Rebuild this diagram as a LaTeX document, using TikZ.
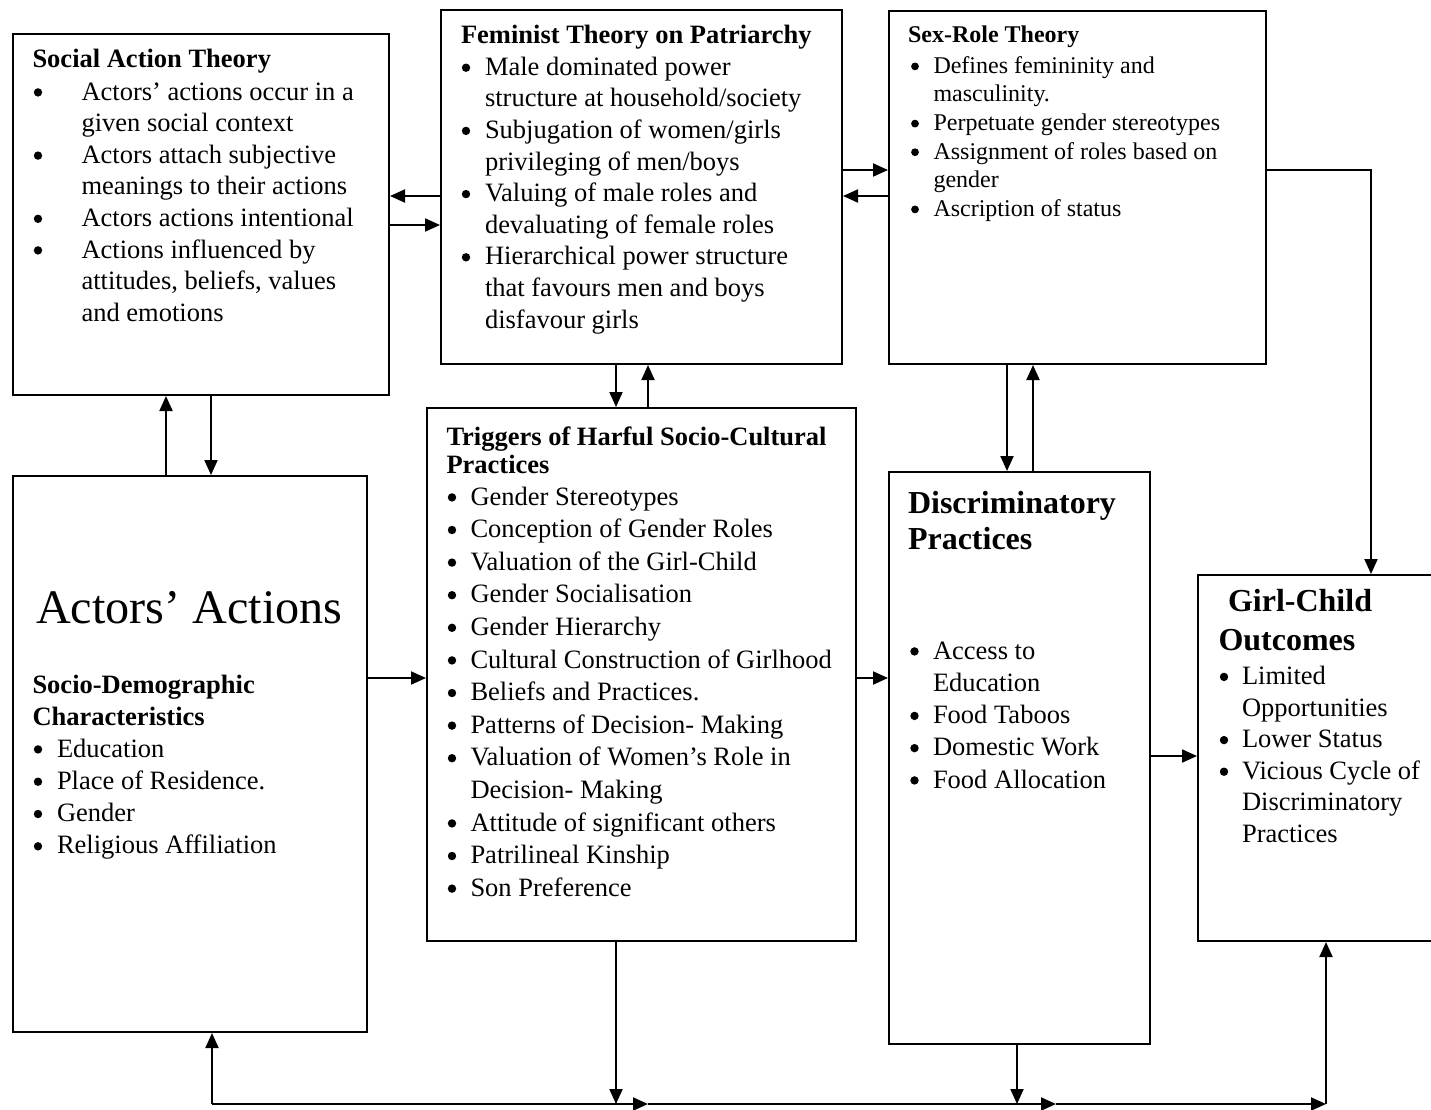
\documentclass[tikz,border=0pt]{standalone}
\usepackage{fontspec}
\setmainfont{Liberation Serif}
\usetikzlibrary{arrows.meta}
\newcommand\fbody{\fontsize{26.5}{31.6}\selectfont}
\newcommand\fsmall{\fontsize{24}{28.6}\selectfont}
\def\bY{4.2pt}
\def\bN{0pt}
\def\bo{7.6}
% #1 name prefix, #2 text x, #3 bullet centre x, #4 first baseline y, #5 step, #6 list radius/text
\newcommand\txtlines[6]{%
  \foreach \r/\tx [count=\k from 0] in {#6}{
    \node[ln, name=#1\k] at ({#2},{#4+\k*#5}) {\tx};
    \fill ({#3},{#4+\k*#5-\bo}) circle (\r);}}
\tikzset{
  boxs/.style={draw, line width=2pt, fill=white, inner sep=0, anchor=north west},
  conn/.style={line width=2pt, -{Triangle[length=15pt,width=13pt]}},
  ln/.style={anchor=base west, inner sep=0, outer sep=0},
  ttl/.style={ln, font=\fbody\bfseries},
  bigttl/.style={ln, font=\fontsize{32}{38}\selectfont\bfseries},
}
\begin{document}
\begin{tikzpicture}[x=1pt,y=-1pt]
\clip (0,0) rectangle (1431,1109);
\fill[white] (0,0) rectangle (1431,1109);

% boxes
\node[boxs, minimum width=376pt, minimum height=361pt] (soc) at (12,33) {};
\node[boxs, minimum width=401pt, minimum height=354pt] (fem) at (440,9) {};
\node[boxs, minimum width=377pt, minimum height=353pt] (sex) at (888,10) {};
\node[boxs, minimum width=354pt, minimum height=556pt] (act) at (12,475) {};
\node[boxs, minimum width=429pt, minimum height=533pt] (trig) at (426,407) {};
\node[boxs, minimum width=261pt, minimum height=572pt] (disc) at (888,471) {};
\node[boxs, minimum width=260pt, minimum height=366pt] (girl) at (1197,574) {};

% Social Action Theory
\node[ttl] (socT) at (32.5,67) {Social Action Theory};
\begin{scope}[font=\fbody]
\txtlines{soc}{81.5}{38}{100}{31.6}{\bY/{Actors’ actions occur in a}, \bN/{given social context},
  \bY/{Actors attach subjective}, \bN/{meanings to their actions},
  \bY/{Actors actions intentional}, \bY/{Actions influenced by},
  \bN/{attitudes, beliefs, values}, \bN/{and emotions}}
\end{scope}

% Feminist Theory
\node[ttl] (femT) at (461,43.5) {Feminist Theory on Patriarchy};
\begin{scope}[font=\fbody]
\txtlines{fem}{485}{466}{75.3}{31.6}{\bY/{Male dominated power}, \bN/{structure at household/society},
  \bY/{Subjugation of women/girls}, \bN/{privileging of men/boys},
  \bY/{Valuing of male roles and}, \bN/{devaluating of female roles},
  \bY/{Hierarchical power structure}, \bN/{that favours men and boys},
  \bN/{disfavour girls}}
\end{scope}

% Sex-Role Theory
\node[ln, font=\fsmall\bfseries] (sexT) at (908,42.5) {Sex-Role Theory};
\begin{scope}[font=\fsmall]
\def\bY{3.9pt}
\def\bo{6.9}
\txtlines{sex}{933.5}{915}{73.3}{28.6}{\bY/{Defines femininity and}, \bN/{masculinity.},
  \bY/{Perpetuate gender stereotypes}, \bY/{Assignment of roles based on},
  \bN/{gender}, \bY/{Ascription of status}}
\end{scope}

% Actors' Actions
\node[ln, font=\fontsize{48.2}{56}\selectfont] (actT) at (36,623) {Actors’ Actions};
\node[ttl] (actS1) at (32.5,693) {Socio-Demographic};
\node[ttl] (actS2) at (32.5,725) {Characteristics};
\begin{scope}[font=\fbody]
\txtlines{act}{57}{38}{757}{32.3}{\bY/{Education}, \bY/{Place of Residence.}, \bY/{Gender},
  \bY/{Religious Affiliation}}
\end{scope}

% Triggers
\node[ttl] (trigT1) at (446.5,445) {Triggers of Harful Socio-Cultural};
\node[ttl] (trigT2) at (446.5,473.5) {Practices};
\begin{scope}[font=\fbody]
\txtlines{trig}{470.5}{452}{505}{32.6}{\bY/{Gender Stereotypes}, \bY/{Conception of Gender Roles},
  \bY/{Valuation of the Girl-Child}, \bY/{Gender Socialisation}, \bY/{Gender Hierarchy},
  \bY/{Cultural Construction of Girlhood}, \bY/{Beliefs and Practices.},
  \bY/{Patterns of Decision- Making}, \bY/{Valuation of Women’s Role in},
  \bN/{Decision- Making}, \bY/{Attitude of significant others},
  \bY/{Patrilineal Kinship}, \bY/{Son Preference}}
\end{scope}

% Discriminatory Practices
\node[bigttl] (discT1) at (908,513) {Discriminatory};
\node[bigttl] (discT2) at (908,549) {Practices};
\begin{scope}[font=\fbody]
\txtlines{disc}{933}{914.5}{659}{32.25}{\bY/{Access to}, \bN/{Education}, \bY/{Food Taboos},
  \bY/{Domestic Work}, \bY/{Food Allocation}}
\end{scope}

% Girl-Child Outcomes
\node[bigttl] (girlT1) at (1228,611.5) {Girl-Child};
\node[bigttl] (girlT2) at (1218.5,650) {Outcomes};
\begin{scope}[font=\fbody]
\txtlines{girl}{1242}{1224}{684.5}{31.6}{\bY/{Limited}, \bN/{Opportunities}, \bY/{Lower Status},
  \bY/{Vicious Cycle of}, \bN/{Discriminatory}, \bN/{Practices}}
\end{scope}

% connectors
\draw[conn] (fem.west |- 0,196) -- (soc.east |- 0,196);
\draw[conn] (soc.east |- 0,225) -- (fem.west |- 0,225);
\draw[conn] (fem.east |- 0,170) -- (sex.west |- 0,170);
\draw[conn] (sex.west |- 0,196) -- (fem.east |- 0,196);
\draw[conn] (fem.south -| 616,0) -- (trig.north -| 616,0);
\draw[conn] (trig.north -| 648,0) -- (fem.south -| 648,0);
\draw[conn] (sex.south -| 1007,0) -- (disc.north -| 1007,0);
\draw[conn] (disc.north -| 1033,0) -- (sex.south -| 1033,0);
\draw[conn] (act.north -| 166,0) -- (soc.south -| 166,0);
\draw[conn] (soc.south -| 211,0) -- (act.north -| 211,0);
\draw[conn] (act.east |- 0,678) -- (trig.west |- 0,678);
\draw[conn] (trig.east |- 0,678) -- (disc.west |- 0,678);
\draw[conn] (disc.east |- 0,756) -- (girl.west |- 0,756);
\draw[conn] (sex.east |- 0,170) -| (girl.north -| 1371,0);

% bottom feedback line
\coordinate (b0) at (212,1104);
\coordinate (b1) at (616,1104);
\coordinate (b2) at (648,1104);
\coordinate (b3) at (1017,1104);
\coordinate (b4) at (1056,1104);
\coordinate (b5) at (1326,1104);
\draw[conn] (trig.south -| b1) -- (b1);
\draw[conn] (disc.south -| b3) -- (b3);
\draw[conn] (b0) -- (b2);
\draw[conn] (b2) -- (b4);
\draw[conn] (b4) -- (b5);
\draw[conn] (b0) -- (act.south -| b0);
\draw[conn] (b5) -- (girl.south -| b5);
\end{tikzpicture}
\end{document}
